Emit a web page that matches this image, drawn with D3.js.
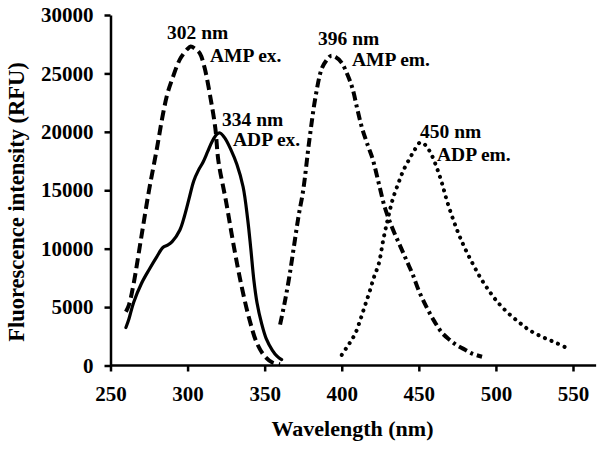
<!DOCTYPE html>
<html>
<head>
<meta charset="utf-8">
<script src="https://cdn.jsdelivr.net/npm/d3@7"></script>
<style>
  html, body { margin: 0; padding: 0; background: #fff; }
  svg { display: block; }
  text { font-family: "Liberation Serif", "Times New Roman", serif; font-weight: bold; fill: #000; }
</style>
</head>
<body>
<svg id="chart" width="600" height="452"></svg>
<script>
// ---- Data ----
const ampExWavelength = [260,262,265,270,275,280,284,287,290,295,300,302,305,308,311,315,318,320,325,330,335,340,345,350,355,360];
const ampExIntensity  = [4600,5200,7000,11000,15000,18500,21500,23300,24500,26200,27100,27300,27100,26700,25500,22800,20300,17500,14000,10200,6800,4000,1900,800,260,100];

const adpExWavelength = [260,262,265,270,275,280,284,287,290,295,298,301,304,307,310,313,316,319,321,324,328,332,336,339,341,343,345,348,351,355,358,361];
const adpExIntensity  = [3250,4000,5400,7000,8200,9300,10100,10300,10600,11600,12800,14300,15800,16700,17400,18300,19200,19800,19900,19500,18500,17200,15300,12500,10000,7300,5400,3600,2300,1300,800,500];

const ampEmWavelength = [360,363,366,369,372,375,379,383,387,390,393,396,400,404,407,410,413,417,420,424,428,433,438,442,446,450,455,460,465,470,475,480,485,491];
const ampEmIntensity  = [3500,5400,7600,10200,12800,15000,19300,23000,25400,26100,26500,26400,25900,24800,23700,22000,20400,18800,17700,15600,13500,11700,10200,9000,7800,6400,5000,3800,2800,2200,1700,1350,1000,750];

const adpEmWavelength = [400,403,406,409,412,415,418,421,424,427,430,433,437,440,444,447,451,454,458,462,465,468,472,476,480,485,490,495,500,507,515,522,530,538,546];
const adpEmIntensity  = [900,1500,2100,2800,3900,5100,6300,7600,8700,10800,12600,14200,15700,16700,17700,18400,19100,18900,18100,16800,15600,14200,12600,11200,10000,8700,7500,6500,5600,4600,3700,3000,2450,2000,1500];

const xTicks = [250,300,350,400,450,500,550];
const yTicks = [0,5000,10000,15000,20000,25000,30000];

const peakLabels = ["302 nm", "334 nm", "396 nm", "450 nm"];
const seriesLabels = ["AMP ex.", "ADP ex.", "AMP em.", "ADP em."];

const xTitle = "Wavelength (nm)";
const yTitle = "Fluorescence intensity (RFU)";

// ---- Layout ----
const svg = d3.select("#chart");
const x = d3.scaleLinear().domain([250, 550]).range([110.5, 573]);
const y = d3.scaleLinear().domain([0, 30000]).range([365.5, 15]);
const xMax = 565;

// axes
const xAxis = svg.append("g").attr("transform", `translate(0,${y(0)})`)
  .call(d3.axisBottom(x).tickValues(xTicks).tickSize(6).tickPadding(15).tickSizeOuter(0).tickFormat(d3.format("d")));
xAxis.select(".domain").attr("d", `M${x(250)},0H${x(xMax)}`);
const yAxis = svg.append("g").attr("transform", `translate(${x(250)},0)`)
  .call(d3.axisLeft(y).tickValues(yTicks).tickSize(6).tickPadding(11).tickSizeOuter(0).tickFormat(d3.format("d")));

[xAxis, yAxis].forEach(g => {
  g.attr("font-family", null);
  g.select(".domain").attr("stroke", "#000").attr("stroke-width", 2.5);
  g.selectAll(".tick line").attr("stroke", "#000").attr("stroke-width", 2.5);
  g.selectAll(".tick text").attr("font-size", 21);
});

// lines
const line = d3.line().x(d => x(d[0])).y(d => y(d[1])).curve(d3.curveCatmullRom.alpha(0.5));
const series = [
  { w: ampExWavelength, v: ampExIntensity, dash: "10 5", width: 4, cap: "butt" },
  { w: adpExWavelength, v: adpExIntensity, dash: null, width: 3.2, cap: "round" },
  { w: ampEmWavelength, v: ampEmIntensity, dash: "9 4 3 4", width: 4, cap: "butt" },
  { w: adpEmWavelength, v: adpEmIntensity, dash: "0.1 7", width: 4, cap: "round" }
];
series.forEach(s => {
  svg.append("path")
    .datum(s.w.map((w, i) => [w, s.v[i]]))
    .attr("d", line)
    .attr("fill", "none")
    .attr("stroke", "#000")
    .attr("stroke-width", s.width)
    .attr("stroke-linecap", s.cap)
    .attr("stroke-linejoin", "round")
    .attr("stroke-dasharray", s.dash);
});

// annotations
const ann = [
  { t1: [167, 39], t2: [210, 62] },
  { t1: [222, 126], t2: [233, 146] },
  { t1: [318, 45], t2: [352, 66] },
  { t1: [420, 138], t2: [437, 161] }
];
ann.forEach((a, i) => {
  svg.append("text").attr("x", a.t1[0]).attr("y", a.t1[1]).attr("font-size", 19.5).text(peakLabels[i]);
  svg.append("text").attr("x", a.t2[0]).attr("y", a.t2[1]).attr("font-size", 19.5).text(seriesLabels[i]);
});

// titles
svg.append("text").attr("x", 352.5).attr("y", 436).attr("text-anchor", "middle").attr("font-size", 22).text(xTitle);
svg.append("text").attr("transform", "translate(24,202) rotate(-90)").attr("text-anchor", "middle").attr("font-size", 22.5).text(yTitle);
</script>
</body>
</html>
